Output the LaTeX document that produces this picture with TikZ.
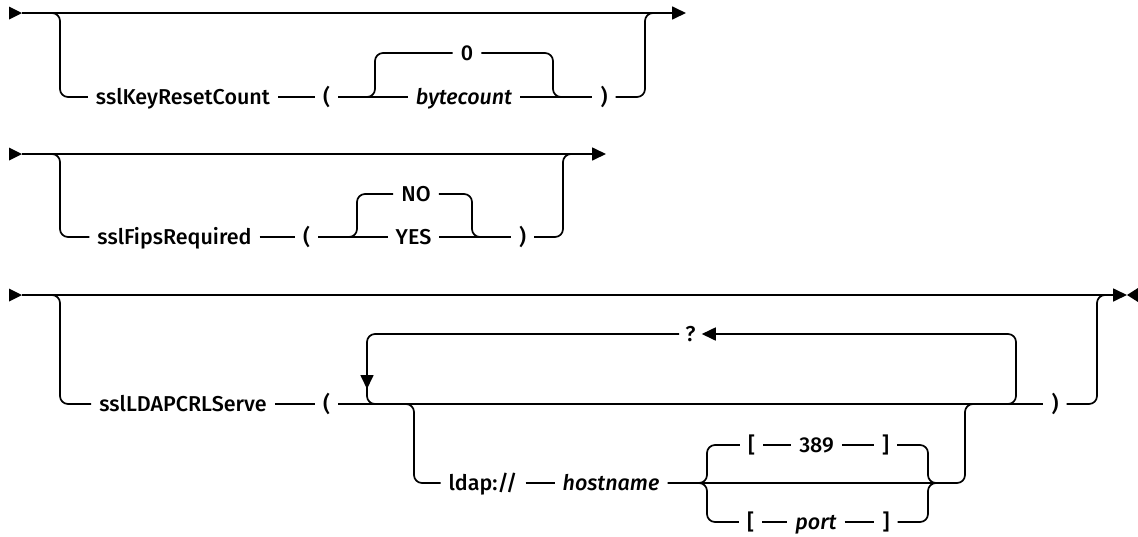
\documentclass[tikz,border=0pt]{standalone}
\usepackage{fontspec}
\setmainfont{Fira Sans}[UprightFont=* Medium, ItalicFont=* Medium Italic]
\usetikzlibrary{arrows.meta}
\begin{document}
\begin{tikzpicture}[x=1pt,y=-1pt,
  rail/.style={line width=1.7pt, rounded corners=8pt},
  lbl/.style={inner xsep=8pt, inner ysep=0pt, text height=15pt, text depth=0pt, font=\fontsize{21.5}{25}\selectfont},
  lbli/.style={lbl, font=\fontsize{21.5}{25}\selectfont\itshape},
  tip/.style={-{Triangle[length=14pt,width=13pt]}}]
\fill[white] (0,0) rectangle (1138,536);
\useasboundingbox (0,0) rectangle (1138,536);

% ---------- diagram 1
\coordinate (s1) at (22,13);
\coordinate (e1) at (686,13);
\node[lbl] (k1) at (183,97) {sslKeyResetCount};
\node[lbl] (lp1) at (326.5,97) {(};
\node[lbl] (z1) at (467,53) {0};
\node[lbli] (bc1) at (464,97) {bytecount};
\node[lbl] (rp1) at (604,97) {)};
\fill (9,6.5) -- (s1) -- (9,19.5) -- cycle;
\draw[rail,tip] (s1) -- (e1);
\draw[rail] (44,13) -| (60,97) -- (k1.west);
\draw[rail] (k1.east) -- (lp1.west);
\draw[rail] (lp1.east) -- (bc1.west);
\draw[rail] (360,97) -| (375,53) -- (z1.west);
\draw[rail] (z1.east) -| (553,97) -- (568,97);
\draw[rail] (bc1.east) -- (rp1.west);
\draw[rail] (rp1.east) -| (645,13) -- (660,13);

% ---------- diagram 2
\coordinate (s2) at (22,154);
\coordinate (e2) at (606,154);
\node[lbl] (f2) at (174.5,237) {sslFipsRequired};
\node[lbl] (lp2) at (306.5,237) {(};
\node[lbl] (no2) at (416,194) {NO};
\node[lbl] (yes2) at (413.5,237) {YES};
\node[lbl] (rp2) at (522.5,237) {)};
\fill (9,147.5) -- (s2) -- (9,160.5) -- cycle;
\draw[rail,tip] (s2) -- (e2);
\draw[rail] (44,154) -| (60,237) -- (f2.west);
\draw[rail] (f2.east) -- (lp2.west);
\draw[rail] (lp2.east) -- (yes2.west);
\draw[rail] (342,237) -| (357,194) -- (no2.west);
\draw[rail] (no2.east) -| (472,237) -- (487,237);
\draw[rail] (yes2.east) -- (rp2.west);
\draw[rail] (rp2.east) -| (563,154) -- (578,154);

% ---------- diagram 3
\coordinate (s3) at (22,295);
\coordinate (e3) at (1127,295);
\node[lbl] (l3) at (183,404) {sslLDAPCRLServe};
\node[lbl] (lp3) at (326.5,404) {(};
\node[lbl, inner xsep=6pt] (q3) at (690.5,334) {?};
\node[lbl] (rp3) at (1055,404) {)};
\node[lbl] (ld3) at (483,483) {ldap://};
\node[lbli] (hn3) at (611,483) {hostname};
\node[lbl] (ob1) at (751.5,445) {[};
\node[lbl] (n389) at (816.5,445) {389};
\node[lbl] (cb1) at (885.5,445) {]};
\node[lbl] (ob2) at (750.5,522) {[};
\node[lbli] (port) at (816,522) {port};
\node[lbl] (cb2) at (886,522) {]};
\fill (9,288.5) -- (s3) -- (9,301.5) -- cycle;
\draw[rail,tip] (s3) -- (e3);
\fill (1138,288) -- (e3) -- (1138,302) -- cycle;
\draw[rail] (44,295) -| (60,404) -- (l3.west);
\draw[rail] (l3.east) -- (lp3.west);
\draw[rail] (lp3.east) -- (rp3.west);
\draw[rail] (rp3.east) -| (1097,295) -- (1110,295);
% repeat loop
\draw[rail,tip] (1000,404) -| (1016,334) -- (q3.east);
\draw[rail,tip] (q3.west) -| (367,389);
\draw[rail] (367,384) |- (385,404);
% ldap branch
\draw[rail] (399,404) -| (414,483) -- (ld3.west);
\draw[rail] (ld3.east) -- (hn3.west);
\draw[rail] (hn3.east) -| (965,404) -- (980,404);
\draw[rail] (694,483) -| (707,445) -- (ob1.west);
\draw[rail] (694,483) -| (707,522) -- (ob2.west);
\draw[rail] (ob1.east) -- (n389.west);
\draw[rail] (n389.east) -- (cb1.west);
\draw[rail] (ob2.east) -- (port.west);
\draw[rail] (port.east) -- (cb2.west);
\draw[rail] (cb1.east) -| (928,483) -- (942,483);
\draw[rail] (cb2.east) -| (928,483) -- (942,483);
\end{tikzpicture}
\end{document}
